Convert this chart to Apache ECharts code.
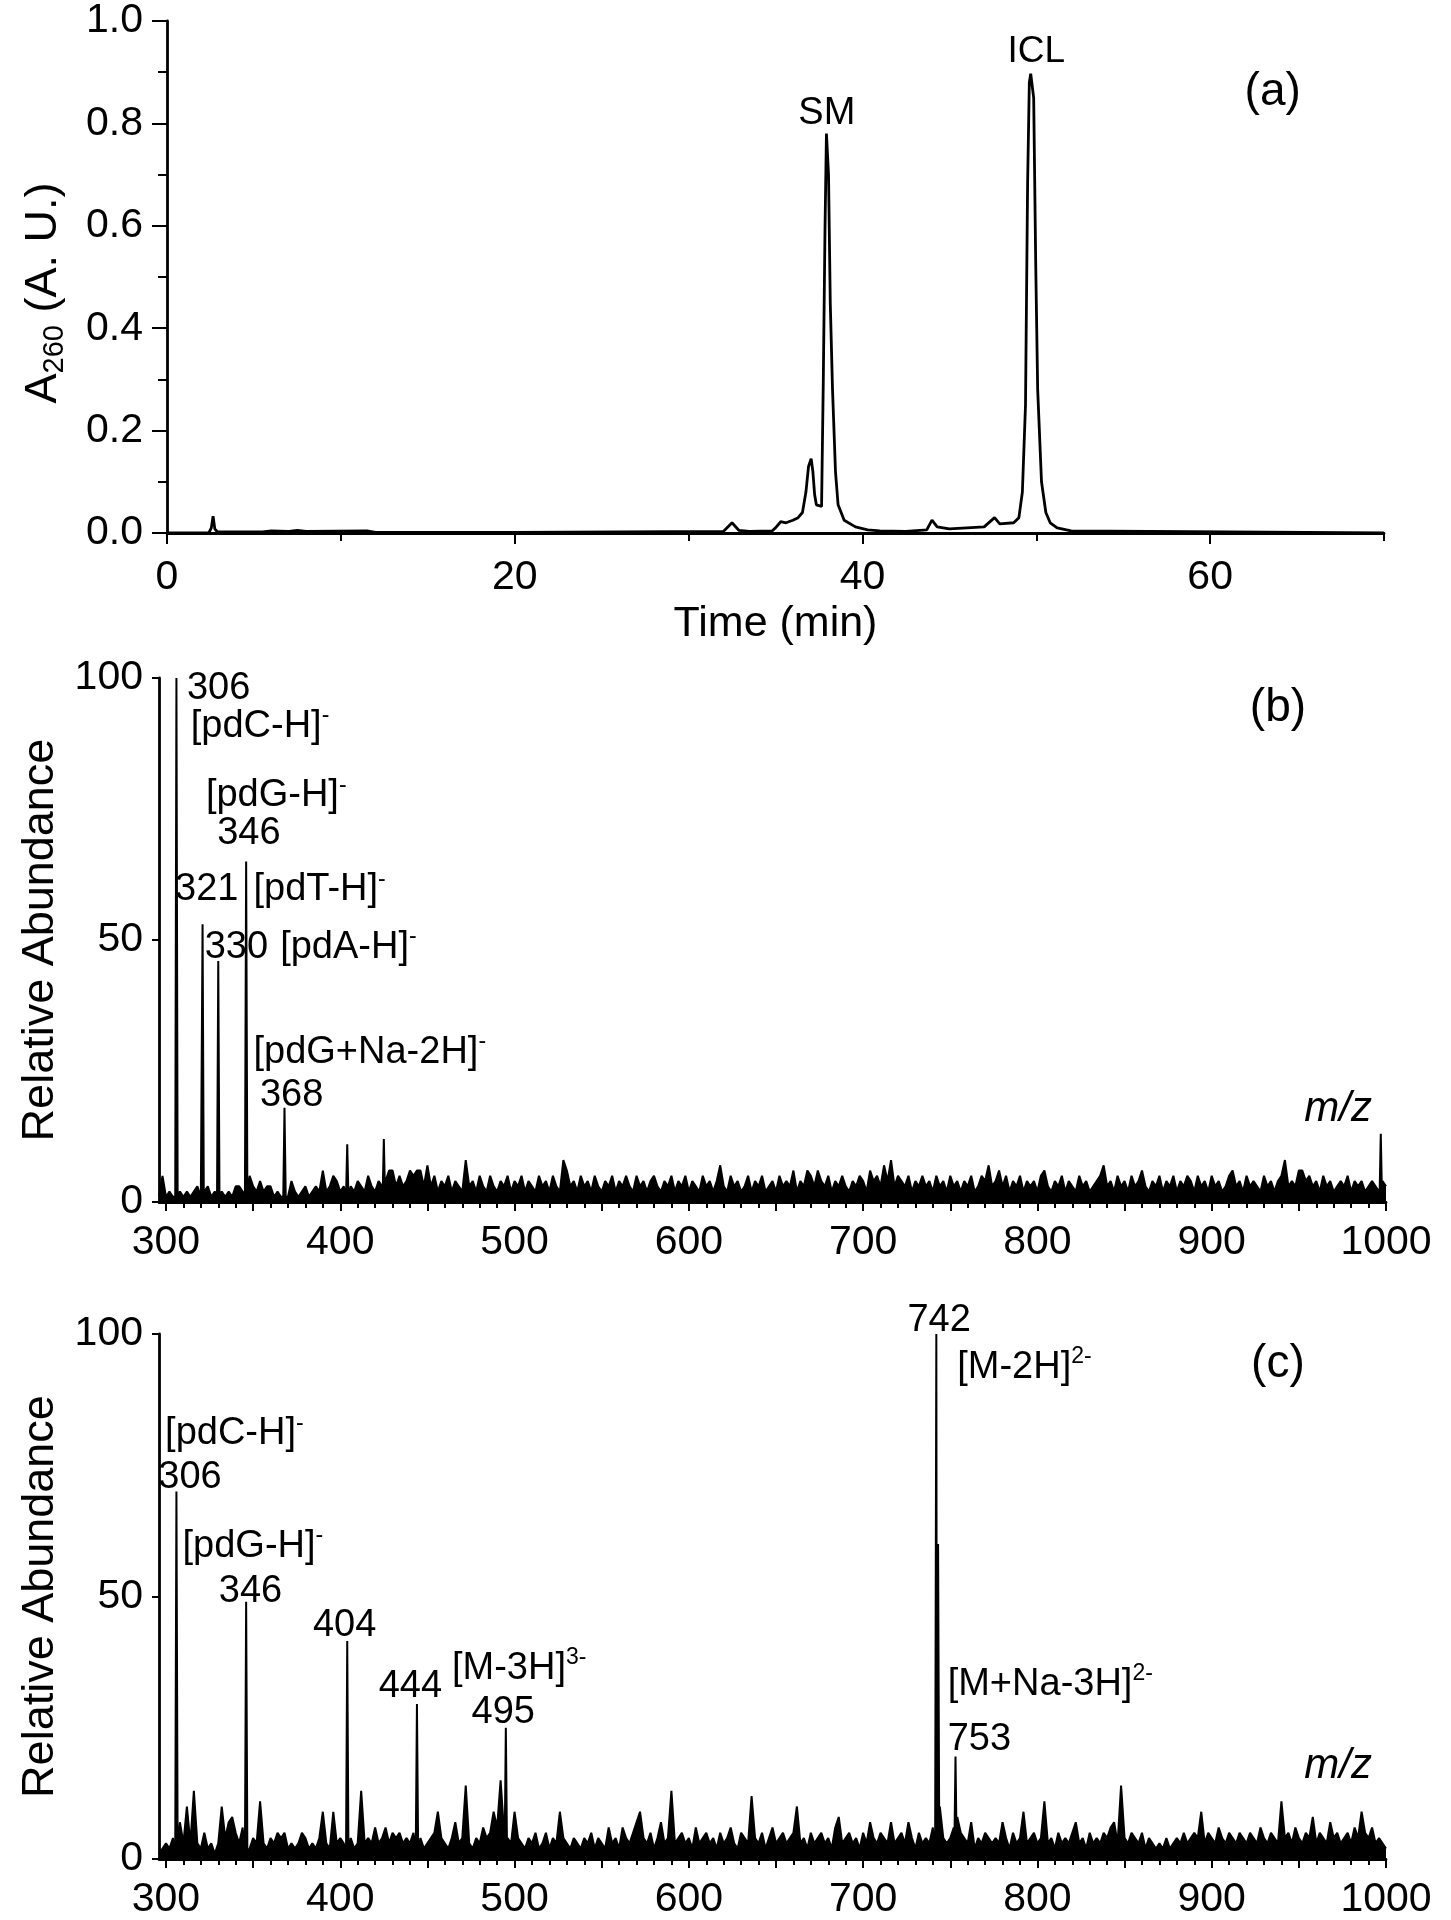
<!DOCTYPE html>
<html><head><meta charset="utf-8">
<script src="https://cdn.jsdelivr.net/npm/echarts@6/dist/echarts.min.js"></script>
<style>html,body{margin:0;padding:0;background:#fff}#c{width:1451px;height:1920px}</style>
</head><body><div id="c"></div>
<script>
// ---------- Panel (a): HPLC chromatogram ----------
const timeA = [0, 2.4, 2.55, 2.65, 2.75, 2.9, 5.5, 6.0, 7.0, 7.5, 8.0, 11.5, 12.0, 20.0, 32.0, 32.5, 32.9, 33.5, 34.8, 35.0, 35.3, 35.6, 36.0, 36.3, 36.55, 36.75, 36.9, 37.05, 37.15, 37.25, 37.35, 37.65, 37.75, 37.85, 37.93, 38.05, 38.15, 38.28, 38.45, 38.6, 38.95, 39.6, 40.3, 41.0, 42.5, 43.7, 44.0, 44.3, 45.0, 46.0, 47.0, 47.6, 47.9, 48.7, 49.0, 49.2, 49.38, 49.5, 49.6, 49.68, 49.85, 49.97, 50.08, 50.3, 50.55, 50.8, 51.2, 52.0, 70.0];
const absA  = [0, 0, 0.01, 0.033, 0.008, 0.002, 0.002, 0.004, 0.003, 0.005, 0.003, 0.004, 0.001, 0.001, 0.003, 0.02, 0.005, 0.003, 0.004, 0.01, 0.022, 0.02, 0.025, 0.03, 0.04, 0.08, 0.13, 0.145, 0.12, 0.075, 0.055, 0.052, 0.3, 0.6, 0.78, 0.7, 0.45, 0.28, 0.12, 0.055, 0.025, 0.012, 0.006, 0.004, 0.003, 0.006, 0.025, 0.012, 0.008, 0.01, 0.012, 0.03, 0.018, 0.02, 0.03, 0.08, 0.25, 0.68, 0.88, 0.897, 0.85, 0.52, 0.28, 0.1, 0.04, 0.02, 0.01, 0.004, 0];

// ---------- Panel (b): mass spectrum ----------
const peakMzB  = [306, 321, 330, 346, 368, 404, 425, 997];
const peakIntB = [100, 53, 46, 65, 18, 11, 12, 13];
// baseline noise read every 2 m/z from 296 to 1000
const noiseB = [
 1,5,1,2,1,1,2,1,2,1,  2,3,1,2,3,1,2,1,2,1,  2,1,3,3,2,1,5,3,2,4,  2,3,3,1,2,1,2,1,4,2,
 1,2,3,1,2,3,2,6,2,3,  5,4,2,3,2,3,2,4,3,2,  5,3,2,4,3,4,6,6,3,5,  3,4,6,5,6,6,3,7,3,5,
 2,4,3,5,2,4,3,2,8,3,  4,2,5,3,2,5,3,2,4,3,  5,2,4,3,5,2,4,3,2,5,  3,4,2,5,3,2,8,6,3,4,
 2,5,3,4,2,5,3,2,4,3,  5,2,4,3,5,3,2,5,3,4,  2,4,5,3,2,4,3,5,2,4,  3,5,2,4,3,2,5,3,4,2,
 4,7,3,2,5,3,4,2,3,5,  2,4,3,5,2,3,4,2,5,3,  4,3,6,2,4,3,6,5,3,6,  4,3,5,2,4,3,5,3,2,4,
 3,5,4,2,6,4,5,3,7,4,  8,3,5,4,3,5,2,4,3,5,  3,4,2,5,3,4,2,5,3,4,  2,4,3,5,2,3,5,4,7,3,
 4,6,3,5,2,4,3,5,2,4,  3,4,2,5,6,3,2,4,3,5,  2,4,3,2,5,3,4,2,3,4,  5,7,3,4,2,5,3,4,2,5,
 3,4,6,3,2,4,3,5,2,4,  3,5,2,4,3,5,4,2,5,3,  4,2,5,3,4,2,3,5,6,3,  4,2,5,3,4,3,2,5,3,4,
 2,4,5,8,3,4,3,6,6,4,  5,3,4,2,5,3,4,2,3,4,  3,5,2,4,3,4,2,3,4,3,  2,4,3
];

// ---------- Panel (c): mass spectrum ----------
const peakMzC  = [306, 346, 404, 444, 495, 742, 743, 753];
const peakIntC = [70, 49, 41.5, 29.5, 25, 100, 60, 19.5];
const noiseC = [
 1,2,3,2,4,3,7,3,10,3,  13,3,2,5,2,3,1,3,10,4,  7,8,5,3,6,3,2,4,3,11,  3,2,4,3,5,4,5,2,3,2,
 3,5,4,2,3,2,4,9,3,2,  9,3,4,3,3,4,2,3,13,3,  4,3,6,3,4,6,3,5,4,5,  3,4,3,5,3,4,2,3,4,5,
 9,4,3,2,4,7,3,4,14,3,  2,4,3,6,4,5,9,6,15,5,  4,3,9,4,3,2,4,3,5,2,  3,5,2,4,3,9,4,3,2,4,
 3,2,4,3,5,2,4,3,2,6,  3,4,2,6,4,3,5,7,9,4,  3,5,2,4,7,3,4,13,3,4,  5,3,4,2,6,3,4,5,3,4,
 2,5,3,4,6,3,2,5,4,3,  12,4,3,5,2,4,6,3,4,5,  3,4,5,10,3,4,2,5,3,4,  5,3,4,2,6,8,3,4,5,3,
 4,2,5,3,7,4,3,5,4,3,  7,3,4,5,3,7,4,2,5,3,  4,3,6,5,10,4,3,4,6,8,  5,4,3,7,2,4,3,5,4,3,
 4,3,7,4,2,5,3,4,9,3,  4,5,3,4,11,3,4,2,5,3,  4,3,5,7,3,4,2,5,3,4,  3,5,4,6,7,3,14,4,3,5,
 4,3,5,2,4,3,2,3,2,4,  2,3,4,3,5,3,4,5,4,9,  3,5,4,3,6,4,3,5,4,3,  5,4,3,5,4,3,6,4,3,5,
 4,3,11,4,5,3,6,4,3,5,  4,8,3,5,4,3,7,4,5,3,  4,5,3,6,4,9,5,4,6,3,  4,3,2
];
const noiseStart = 296, noiseStep = 2;

// ---------- Tick values ----------
const ticksAMajor = [0, 20, 40, 60];
const ticksAMinor = [10, 30, 50, 70];
const ticksMSLabel = [300, 400, 500, 600, 700, 800, 900, 1000];
const ticksMSMajor = [300, 350, 400, 450, 500, 550, 600, 650, 700, 750, 800, 850, 900, 950, 1000];
const ticksMSMinor = [310,320,330,340,360,370,380,390,410,420,430,440,460,470,480,490,510,520,530,540,560,570,580,590,610,620,630,640,660,670,680,690,710,720,730,740,760,770,780,790,810,820,830,840,860,870,880,890,910,920,930,940,960,970,980,990];

// ---------- Annotation texts (data coordinates) ----------
const labelsA = [
  ['SM', 37.95, 0.82, 'center', 38],
  ['ICL', 50.0, 0.94, 'center', 37],
  ['(a)', 63.6, 0.86, 'center', 46]
];
const labelsB = [
  ['306', 312.0, 98.0, 'left', 38],
  ['[pdC-H]{s|-}', 314.2, 90.8, 'left', 38],
  ['[pdG-H]{s|-}', 322.9, 77.5, 'left', 38],
  ['346', 347.6, 70.3, 'center', 38],
  ['321', 323.4, 59.6, 'center', 38],
  ['[pdT-H]{s|-}', 350.2, 59.6, 'left', 38],
  ['330', 340.4, 48.6, 'center', 38],
  ['[pdA-H]{s|-}', 365.5, 48.6, 'left', 38],
  ['[pdG+Na-2H]{s|-}', 350.2, 28.6, 'left', 38],
  ['368', 372.1, 20.3, 'center', 38],
  ['(b)', 938, 94.3, 'center', 46]
];
const labelsC = [
  ['[pdC-H]{s|-}', 299.5, 81.0, 'left', 38],
  ['306', 313.8, 72.6, 'center', 38],
  ['[pdG-H]{s|-}', 309.5, 59.6, 'left', 38],
  ['346', 348.5, 51.0, 'center', 38],
  ['404', 402.5, 44.4, 'center', 38],
  ['444', 440.2, 32.9, 'center', 38],
  ['[M-3H]{s|3-}', 464.1, 36.3, 'left', 38],
  ['495', 493.5, 27.9, 'center', 38],
  ['742', 743.6, 102.6, 'center', 38],
  ['[M-2H]{s|2-}', 754, 93.6, 'left', 38],
  ['(c)', 938, 94.2, 'center', 46],
  ['[M+Na-3H]{s|2-}', 748.5, 33.3, 'left', 38],
  ['753', 748.5, 22.8, 'left', 38]
];

// ---------- helpers ----------
const FONT = "'Liberation Sans', Arial, Helvetica, sans-serif";
const BLACK = '#000000';

function buildSpectrum(noise, pm, pi) {
  const pts = [];
  noise.forEach((v, i) => {
    const m = noiseStart + i * noiseStep;
    if (!pm.some(p => Math.abs(p - m) < 0.9)) pts.push([m, v]);
  });
  pm.forEach((m, i) => {
    pts.push([m - 0.7, 1]);
    pts.push([m, pi[i]]);
    pts.push([m + 0.7, 1]);
  });
  pts.sort((a, b) => a[0] - b[0]);
  return pts;
}

const richSup = {
  s: { fontSize: 23, lineHeight: 23, verticalAlign: 'top', fontFamily: FONT, color: BLACK, textBorderWidth: 0 }
};

function annot(list, xi, yi) {
  return {
    type: 'scatter', xAxisIndex: xi, yAxisIndex: yi, clip: false, silent: true,
    symbolSize: 1, itemStyle: { color: 'rgba(255,255,255,0)' },
    label: {
      show: true, position: 'inside', color: BLACK, fontFamily: FONT,
      textBorderWidth: 0, textShadowBlur: 0, opacity: 1,
      verticalAlign: 'middle', rich: richSup
    },
    data: list.map(l => ({
      value: [l[1], l[2]],
      label: { formatter: l[0], align: l[3], fontSize: l[4], lineHeight: l[4] + 6 }
    })),
    z: 5
  };
}

const tickLabelStyle = { color: BLACK, fontFamily: FONT, fontSize: 41 };
const axisLine = { show: true, lineStyle: { color: BLACK, width: 2.8 } };

function msX(grid) {
  return [{
    type: 'value', gridIndex: grid, position: 'bottom', min: 296, max: 1000,
    axisLine: axisLine, splitLine: { show: false },
    axisTick: { show: true, length: 9, lineStyle: { color: BLACK, width: 2 }, customValues: ticksMSMajor },
    axisLabel: Object.assign({ margin: 20, customValues: ticksMSLabel, formatter: v => String(v) }, tickLabelStyle),
    name: 'm/z', nameLocation: 'end', nameGap: -14,
    nameTextStyle: { fontFamily: FONT, fontStyle: 'italic', fontSize: 42, color: BLACK, align: 'right', verticalAlign: 'bottom', padding: [0, 0, 72, 0] }
  }, {
    type: 'value', gridIndex: grid, position: 'bottom', min: 296, max: 1000,
    axisLine: { show: false }, splitLine: { show: false }, axisLabel: { show: false },
    axisTick: { show: true, length: 6, lineStyle: { color: BLACK, width: 2 }, customValues: ticksMSMinor }
  }];
}
function msY(grid) {
  return {
    type: 'value', gridIndex: grid, min: 0, max: 100, interval: 50,
    axisLine: axisLine, splitLine: { show: false },
    axisTick: { show: true, length: 7, lineStyle: { color: BLACK, width: 2 } },
    axisLabel: Object.assign({ margin: 16 }, tickLabelStyle),
    name: 'Relative Abundance', nameLocation: 'middle', nameGap: 96,
    nameTextStyle: { fontFamily: FONT, fontSize: 45, color: BLACK }
  };
}

function msSeries(xi, yi, noise, pm, pi) {
  return {
    type: 'line', xAxisIndex: xi, yAxisIndex: yi, showSymbol: false, silent: true,
    lineStyle: { color: BLACK, width: 2 },
    areaStyle: { color: BLACK, opacity: 1, origin: 'start' },
    data: buildSpectrum(noise, pm, pi)
  };
}

const option = {
  backgroundColor: '#fff',
  animation: false,
  grid: [
    { left: 167, right: 67, top: 21, height: 512 },
    { left: 159, right: 65, top: 678, height: 524 },
    { left: 159, right: 65, top: 1334, height: 525 }
  ],
  xAxis: [
    {
      type: 'value', gridIndex: 0, position: 'bottom', min: 0, max: 70,
      axisLine: axisLine, splitLine: { show: false },
      axisTick: { show: true, length: 11, lineStyle: { color: BLACK, width: 2 }, customValues: ticksAMajor },
      axisLabel: Object.assign({ margin: 24, customValues: ticksAMajor }, tickLabelStyle),
      name: 'Time (min)', nameLocation: 'middle', nameGap: 70,
      nameTextStyle: { fontFamily: FONT, fontSize: 43, color: BLACK }
    },
    {
      type: 'value', gridIndex: 0, position: 'bottom', min: 0, max: 70,
      axisLine: { show: false }, splitLine: { show: false }, axisLabel: { show: false },
      axisTick: { show: true, length: 8, lineStyle: { color: BLACK, width: 2 }, customValues: ticksAMinor }
    },
    ...msX(1),
    ...msX(2)
  ],
  yAxis: [
    {
      type: 'value', gridIndex: 0, min: 0, max: 1, interval: 0.2,
      axisLine: axisLine, splitLine: { show: false },
      axisTick: { show: true, length: 15, lineStyle: { color: BLACK, width: 2 } },
      minorTick: { show: true, splitNumber: 2, length: 9, lineStyle: { color: BLACK, width: 2 } },
      axisLabel: Object.assign({ margin: 24, formatter: v => v.toFixed(1) }, tickLabelStyle),
      name: 'A{sub|260} (A. U.)', nameLocation: 'middle', nameGap: 98,
      nameTextStyle: {
        fontFamily: FONT, fontSize: 45, lineHeight: 50, color: BLACK, padding: [0, 32, 0, 0],
        rich: { sub: { fontFamily: FONT, fontSize: 29, lineHeight: 29, verticalAlign: 'bottom', color: BLACK } }
      }
    },
    msY(1),
    msY(2)
  ],
  series: [
    {
      type: 'line', xAxisIndex: 0, yAxisIndex: 0, showSymbol: false, silent: true,
      lineStyle: { color: BLACK, width: 2.8 },
      data: timeA.map((t, i) => [t, absA[i]])
    },
    annot(labelsA, 0, 0),
    msSeries(2, 1, noiseB, peakMzB, peakIntB),
    annot(labelsB, 2, 1),
    msSeries(4, 2, noiseC, peakMzC, peakIntC),
    annot(labelsC, 4, 2)
  ]
};

const chart = echarts.init(document.getElementById('c'), null, { renderer: 'canvas' });
chart.setOption(option);
</script>
</body></html>
